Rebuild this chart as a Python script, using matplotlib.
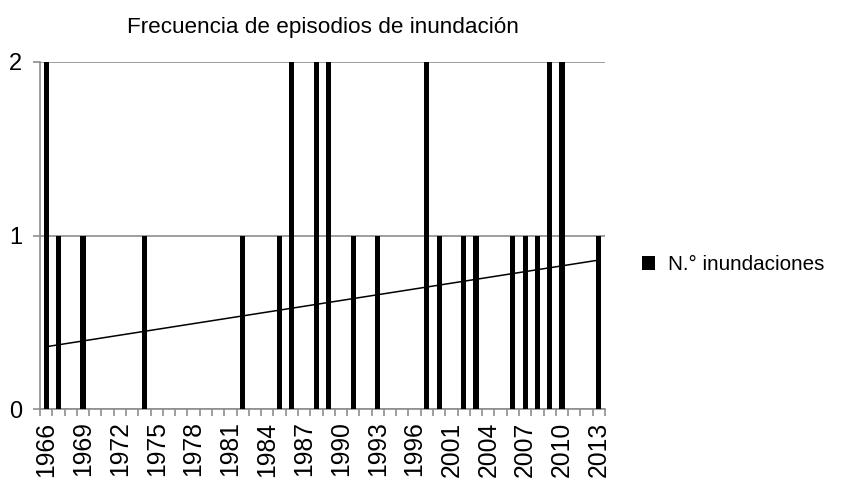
import matplotlib
matplotlib.use('Agg')
import matplotlib.pyplot as plt
import numpy as np

plt.rcParams['font.family'] = ['Liberation Sans', 'DejaVu Sans']

years = [str(y) for y in range(1966, 1997)] + ['1998', '2000'] + [str(y) for y in range(2001, 2014)]
floods = [2, 1, 0, 1, 0, 0, 0, 0, 1, 0,
          0, 0, 0, 0, 0, 0, 1, 0, 0, 1,
          2, 0, 2, 2, 0, 1, 0, 1, 0, 0,
          0, 2, 1, 0, 1, 1, 0, 0, 1, 1,
          1, 2, 2, 0, 0, 1]
title = 'Frecuencia de episodios de inundación'
series_name = 'N.° inundaciones'

GRAY = '#8e8e8e'

fig = plt.figure(figsize=(8.41, 4.78), dpi=100)
ax = fig.add_axes([40 / 841, 1 - 409 / 478, 565 / 841, 347 / 478])

x = np.arange(len(years))
ax.bar(x, floods, width=0.42, color='black', label=series_name, zorder=3)

# linear trend line (like the spreadsheet trendline)
k, b = np.polyfit(x, floods, 1)
ax.plot(x, k * x + b, color='black', lw=1.1, zorder=4)

ax.set_xlim(-0.5, len(years) - 0.5)
ax.set_ylim(0, 2)
ax.set_yticks([0, 1, 2])
ax.yaxis.grid(True, color=GRAY, lw=1.2, zorder=0)

ax.set_xticks(x[::3])
ax.set_xticklabels(years[::3], rotation=90, fontsize=17.8)
ax.set_xticks(np.arange(-0.5, len(years), 1), minor=True)
ax.tick_params(axis='x', which='major', length=0, pad=9)
ax.tick_params(axis='x', which='minor', length=5, width=1.2, color=GRAY)
ax.tick_params(axis='y', length=5, width=1.2, color=GRAY, labelsize=17, pad=8)

for s in ['top', 'right']:
    ax.spines[s].set_visible(False)
for s in ['left', 'bottom']:
    ax.spines[s].set_color(GRAY)
    ax.spines[s].set_linewidth(1.2)

ax.set_title(title, fontsize=16.2, pad=21)

fig.legend(loc='center left', bbox_to_anchor=(642 / 841, 1 - 265 / 478), frameon=False,
           fontsize=14.9, handlelength=0.65, handleheight=0.65, handletextpad=0.6,
           borderpad=0, borderaxespad=0)

fig.savefig('out.png', dpi=100)
